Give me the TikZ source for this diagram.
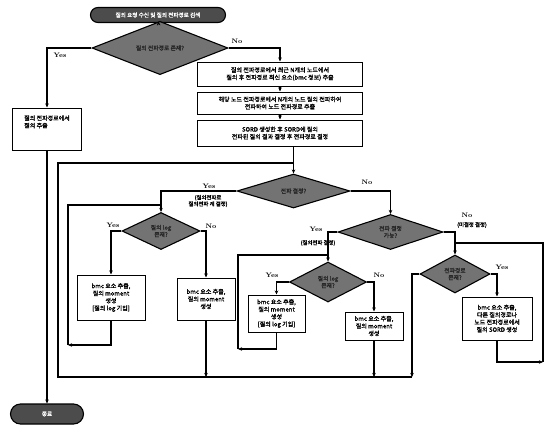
\documentclass[tikz,border=0pt]{standalone}
\usepackage{fontspec}
\newfontfamily\kr[FakeBold=1.5]{Noto Sans CJK KR}
\usetikzlibrary{shapes.geometric,shapes.misc,arrows.meta}
\begin{document}
\begin{tikzpicture}[x=1pt,y=-1pt,
 line width=1.1pt, >={Stealth[length=4pt,width=3.5pt]},
 box/.style={draw,fill=white,align=center,inner sep=1pt,font=\kr\fontsize{6}{7.4}\selectfont,line width=1pt},
 dec/.style={diamond,draw,fill=black!55,inner sep=0pt,align=center,font=\kr\fontsize{5.8}{7}\selectfont,text=black!85},
 term/.style={rounded rectangle,draw,fill=black!70,text=white,inner sep=1pt,font=\kr\fontsize{5.6}{6.8}\selectfont},
 lab/.style={font=\bfseries\fontsize{6.5}{7}\selectfont,inner sep=1pt},
 klab/.style={font=\kr\fontsize{5.4}{6.4}\selectfont,inner sep=1pt,align=center}]
\useasboundingbox (0,0) rectangle (547,426);

% nodes
\node[term,minimum width=137,minimum height=15] (start) at (158,15) {질의 요청 수신 및 질의 전파경로 검색};
\node[dec,minimum width=136,minimum height=29] (d1) at (160,48) {질의 전파경로 존재?};
\node[box,align=left,minimum width=69,minimum height=42] (lbox) at (47,129) {질의 전파경로에서\\질의 추출\\\mbox{}\\\mbox{}};
\node[box,minimum width=165,minimum height=24] (box1) at (280,74) {질의 전파경로에서 최근 N개의 노드에서\\질의 후 전파경로 최신 요소(bmc 정보) 추출};
\node[box,minimum width=165,minimum height=22] (box2) at (280,103) {해당 노드 전파경로에서 N개의 노드 질의 전파하여\\전파하여 노드 전파경로 추출};
\node[box,minimum width=165,minimum height=26] (box3) at (280,133) {SORD 생성한 후 SORD에 질의\\전파된 질의 결과 결정 후 전파경로 결정};
\node[dec,minimum width=113,minimum height=34] (d2) at (293.5,191) {전파 결정?};
\node[dec,minimum width=78,minimum height=37] (d3) at (161,231) {질의 log\\존재?};
\node[box,minimum width=68,minimum height=45] (boxL1) at (111,297.5) {bmc 요소 추출,\\질의 moment\\생성\\{[}질의 log 기입{]}};
\node[box,minimum width=58,minimum height=42] (boxL2) at (206,299) {bmc 요소 추출,\\질의 moment\\생성};
\node[dec,minimum width=105,minimum height=35] (d4) at (390.5,232) {전파 결정\\가능?};
\node[dec,minimum width=77,minimum height=40] (d6) at (328,282) {질의 log\\존재?};
\node[box,minimum width=57,minimum height=37] (boxM1) at (276.5,313.5) {bmc 요소 추출,\\질의 moment\\생성\\{[}질의 log 기입{]}};
\node[box,minimum width=58,minimum height=28] (boxM2) at (374,326) {bmc 요소 추출,\\질의 moment\\생성};
\node[dec,minimum width=70,minimum height=38] (d5) at (455,274) {전파경로\\존재?};
\node[box,minimum width=70,minimum height=43] (boxR) at (497,318.5) {bmc 요소 추출,\\다른 질의경로나\\노드 전파경로에서\\질의 SORD 생성};
\node[term,minimum width=75,minimum height=20] (end) at (47,414) {종료};

% labels
\node[lab] (y1) at (60,55) {Yes};
\node[lab] (n1) at (237,41) {No};
\node[lab] (y2) at (209,186) {Yes};
\node[klab] (y2k) at (208,201) {(질의전파로\\질의전파 계 결정)};
\node[lab] (n2) at (367,182) {No};
\node[lab] (y3) at (113,225) {Yes};
\node[lab] (n3) at (211,226) {No};
\node[lab] (y4) at (316,229) {Yes};
\node[klab] (y4k) at (318,243) {(질의전파 결정)};
\node[lab] (n4) at (467,215) {No};
\node[klab] (n4k) at (472,225) {(미결정 결정)};
\node[lab] (y6) at (272,275) {Yes};
\node[lab] (n6) at (379,275) {No};
\node[lab] (y5) at (502,267) {Yes};

% loop corners
\coordinate (olt) at (58,163);
\coordinate (olb) at (58,377);
\coordinate (orb) at (412,377);
\coordinate (l3t) at (68,205);
\coordinate (l3b) at (68,345);
\coordinate (l6t) at (238,255);
\coordinate (l6b) at (238,349);
\coordinate (l5t) at (543,243);
\coordinate (l5b) at (543,362);

% connectors
\draw[->] (start) -- (d1);
\draw[->] (d1.west) -| (lbox.north);
\draw[->] (d1.east) -| (box1.north);
\draw[->] (box1) -- (box2);
\draw[->] (box2) -- (box3);
\draw[->] (lbox.south) -- (end.north);
\draw (orb) -- (olb) -- (olt) -- (olt -| d2.north);
\draw[->] (box3.south -| d2.north) -- (d2.north);
\draw[->] (d2.west) -| (d3.north);
\draw[->] (d2.east) -| (d4.north);
\draw[->] (d3.west) -| (boxL1.north);
\draw[->] (d3.east) -| (boxL2.north);
\draw[->] (boxL1.south) |- (l3b);
\draw (l3b) -- (l3t) -- (l3t -| d3.north);
\draw[->] (boxL2.south) -- (boxL2.south |- olb);
\draw[->] (d4.west) -| (d6.north);
\draw[->] (d4.east) -| (d5.north);
\draw[->] (d6.west) -| (boxM1.north);
\draw[->] (d6.east) -| (boxM2.north);
\draw[->] (boxM1.south) |- (l6b);
\draw (l6b) -- (l6t) -- (l6t -| d6.north);
\draw[->] (boxM2.south) -- (boxM2.south |- olb);
\draw[->] (d5.west) -| (orb);
\draw[->] (d5.east) -| (boxR.north);
\draw[->] (boxR.south) |- (l5b);
\draw (l5b) -- (l5t) -- (l5t -| d5.north);
\end{tikzpicture}
\end{document}
